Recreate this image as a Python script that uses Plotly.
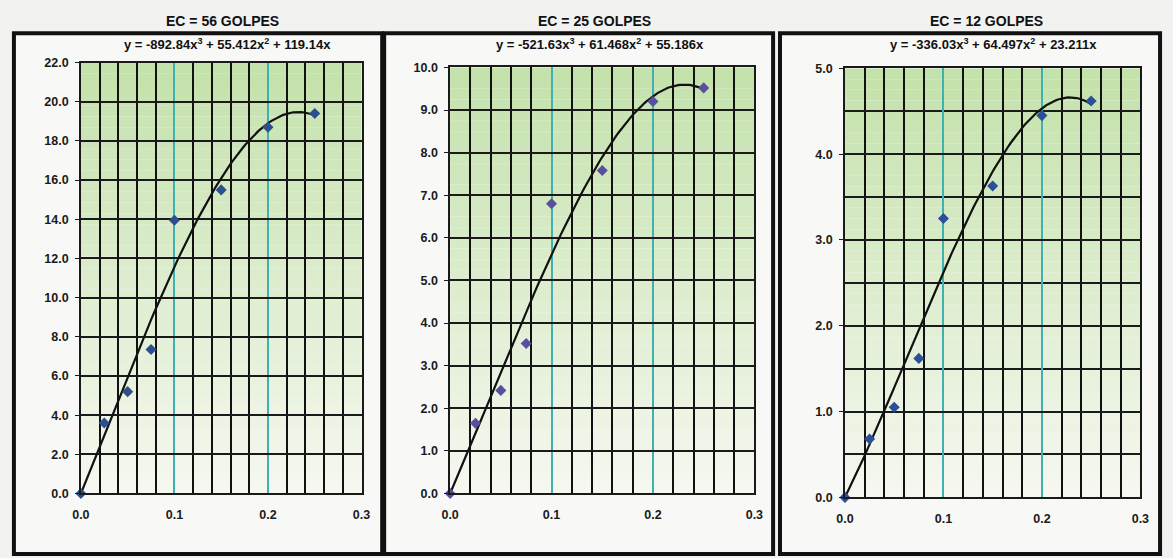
import numpy as np
import plotly.graph_objects as go

W, H = 1173, 558

# Deformation (x) and measured values for the three compaction energies
deformation = [0.0, 0.025, 0.05, 0.075, 0.10, 0.15, 0.20, 0.25]
stress_56 = [0.0, 3.60, 5.20, 7.35, 13.95, 15.50, 18.70, 19.40]
stress_25 = [0.0, 1.65, 2.42, 3.52, 6.80, 7.58, 9.20, 9.52]
stress_12 = [0.0, 0.68, 1.05, 1.62, 3.25, 3.63, 4.45, 4.62]

# Cubic trend coefficients (x^3, x^2, x), intercept fixed at zero
coef_56 = [-892.84, 55.412, 119.14]
coef_25 = [-521.63, 61.468, 55.186]
coef_12 = [-336.03, 64.497, 23.211]

titles = ["EC = 56 GOLPES", "EC = 25 GOLPES", "EC = 12 GOLPES"]
equations = [
    "y = -892.84x<sup>3</sup> + 55.412x<sup>2</sup> + 119.14x",
    "y = -521.63x<sup>3</sup> + 61.468x<sup>2</sup> + 55.186x",
    "y = -336.03x<sup>3</sup> + 64.497x<sup>2</sup> + 23.211x",
]
y_max = [22.0, 10.0, 5.0]
y_dtick = [2.0, 1.0, 1.0]
y_minor = [None, None, 0.5]
x_ticks = [0.0, 0.1, 0.2, 0.3]

series = [stress_56, stress_25, stress_12]
coefs = [coef_56, coef_25, coef_12]
marker_colors = ["#2d4f8e", "#5a4f9e", "#2b4f98"]

# pixel layout of each panel: frame box, plot area box, title/equation centres
frames = [(5, 27, 379, 561), (381, 27, 776, 561), (783, 27, 1169, 561)]
plots = [(73, 57, 358, 499), (448, 62, 757, 499), (849, 63, 1149, 503)]
title_cx = [217, 595, 993]
eq_cx = [222, 600, 1000]


def px(x):
    return x / W


def py(y):
    return 1 - y / H


FONT = "Liberation Sans, Arial, sans-serif"
TICKFONT = dict(family=FONT, size=12.5, color="#1a1a1a", weight="bold")

fig = go.Figure()
shapes = []
annotations = []

for i in range(3):
    n = "" if i == 0 else str(i + 1)
    xa, ya = "x" + n, "y" + n
    x0, y0, x1, y1 = plots[i]

    fig.update_layout(**{
        "xaxis" + n: dict(
            domain=[px(x0), px(x1)], range=[0, 0.3], anchor=ya,
            tickvals=x_ticks, tickformat=".1f",
            showgrid=True, gridcolor="#3fb1b1", gridwidth=2,
            minor=dict(dtick=0.02, tick0=0, showgrid=True,
                       gridcolor="#111111", gridwidth=2),
            showline=True, linecolor="#1a1a1a", linewidth=1.5, mirror=True,
            zeroline=False, ticks="", ticklabelstandoff=9,
            tickfont=TICKFONT,
            fixedrange=True,
        ),
        "yaxis" + n: dict(
            domain=[py(y1), py(y0)], range=[0, y_max[i]], anchor=xa,
            dtick=y_dtick[i], tick0=0, tickformat=".1f",
            showgrid=True, gridcolor="#1a1a1a", gridwidth=1.5,
            minor=(dict(dtick=y_minor[i], tick0=0, showgrid=True,
                        gridcolor="#1a1a1a", gridwidth=1.5)
                   if y_minor[i] else dict(showgrid=False)),
            showline=True, linecolor="#1a1a1a", linewidth=1.5, mirror=True,
            zeroline=False, ticks="outside", ticklen=4, tickcolor="#1a1a1a",
            ticklabelstandoff=4,
            tickfont=TICKFONT,
            fixedrange=True,
        ),
    })

    # panel frame
    fx0, fy0, fx1, fy1 = frames[i]
    shapes.append(dict(type="rect", xref="paper", yref="paper",
                       x0=px(fx0), x1=px(fx1), y0=py(fy1), y1=py(fy0),
                       line=dict(color="#111111", width=4),
                       fillcolor="#f8f8f6", layer="below"))

    # green-to-white vertical gradient behind the grid
    bands = 40
    top = np.array([196, 226, 172])
    bottom = np.array([246, 248, 240])
    for b in range(bands):
        t = b / (bands - 1)
        c = top + (bottom - top) * t
        shapes.append(dict(type="rect", xref=xa + " domain", yref=ya + " domain",
                           x0=0, x1=1, y0=1 - (b + 1) / bands, y1=1 - b / bands,
                           line=dict(width=0),
                           fillcolor="rgb(%d,%d,%d)" % tuple(c), layer="below"))

    # cubic trend line
    a3, a2, a1 = coefs[i]
    xs = np.linspace(0, deformation[-1], 120)
    ys = a3 * xs ** 3 + a2 * xs ** 2 + a1 * xs
    fig.add_trace(go.Scatter(x=xs, y=ys, mode="lines", xaxis=xa, yaxis=ya,
                             line=dict(color="#111111", width=2.2),
                             hoverinfo="skip", showlegend=False, cliponaxis=False))

    # measured points
    fig.add_trace(go.Scatter(x=deformation, y=series[i], mode="markers",
                             xaxis=xa, yaxis=ya, cliponaxis=False,
                             marker=dict(symbol="diamond", size=8.5, color=marker_colors[i],
                                         line=dict(width=0)),
                             showlegend=False))

    annotations.append(dict(text="<b>%s</b>" % titles[i], xref="paper", yref="paper",
                            x=px(title_cx[i]), y=py(14), xanchor="center", yanchor="middle",
                            showarrow=False,
                            font=dict(family=FONT, size=14, color="#111111")))
    annotations.append(dict(text=equations[i], xref="paper", yref="paper",
                            x=px(eq_cx[i]), y=py(38), xanchor="center", yanchor="middle",
                            showarrow=False,
                            font=dict(family=FONT, size=13, color="#111111",
                                      weight="bold")))

fig.update_layout(
    width=W, height=H,
    margin=dict(l=0, r=0, t=0, b=0),
    paper_bgcolor="#f2f2f0",
    plot_bgcolor="rgba(0,0,0,0)",
    shapes=shapes,
    annotations=annotations,
    showlegend=False,
)

fig.write_html("out.html", config={"displayModeBar": False})
